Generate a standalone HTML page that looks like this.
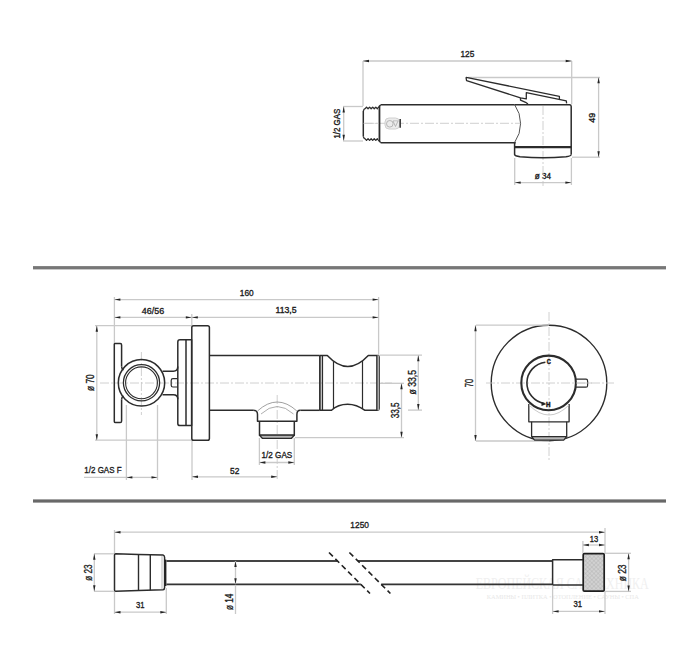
<!DOCTYPE html>
<html><head><meta charset="utf-8"><style>
html,body{margin:0;padding:0;background:#fff;}
svg{display:block;}
</style></head><body>
<svg width="700" height="651" viewBox="0 0 700 651">
<rect width="700" height="651" fill="#fff"/>
<rect x="33" y="266.1" width="633" height="3.3" fill="#777"/>
<rect x="33" y="499.4" width="633" height="3.2" fill="#686868"/>
<text x="562.2" y="589" font-size="16" text-anchor="middle" textLength="173" lengthAdjust="spacingAndGlyphs" style="font-family:'Liberation Serif', serif" fill="#f0f0f0">ЕВРОПЕЙСКАЯ САНТЕХНИКА</text>
<text x="562.8" y="599.3" font-size="6" text-anchor="middle" textLength="152" lengthAdjust="spacingAndGlyphs" style="font-family:'Liberation Serif', serif" fill="#e8e8e8">КАМИНЫ • ПЛИТКА • ОТОПЛЕНИЕ • САУНЫ • СПА</text>
<line x1="363" y1="61" x2="363" y2="106" stroke="#c9c9c9" stroke-width="1.3" />
<line x1="571.7" y1="61" x2="571.7" y2="104" stroke="#c9c9c9" stroke-width="1.3" />
<line x1="363" y1="61" x2="571.7" y2="61" stroke="#c9c9c9" stroke-width="1.3" />
<polygon points="363.00,61.00 369.00,59.80 369.00,62.20" fill="#252525"/>
<polygon points="571.70,61.00 565.70,59.80 565.70,62.20" fill="#252525"/>
<text x="467.40" y="56.95" font-size="9.57" text-anchor="middle" textLength="13.90" lengthAdjust="spacingAndGlyphs" font-family='"Liberation Sans", sans-serif' font-weight="normal" fill="#1a1a1a" stroke="#1a1a1a" stroke-width="0.35">125</text>
<line x1="343" y1="106.5" x2="363" y2="106.5" stroke="#c9c9c9" stroke-width="1.3" />
<line x1="343" y1="141" x2="363" y2="141" stroke="#c9c9c9" stroke-width="1.3" />
<line x1="343.7" y1="106.6" x2="343.7" y2="140.8" stroke="#c9c9c9" stroke-width="1.3" />
<polygon points="343.70,106.60 342.50,112.60 344.90,112.60" fill="#252525"/>
<polygon points="343.70,140.80 342.50,134.80 344.90,134.80" fill="#252525"/>
<text transform="translate(339.60,123.65) rotate(-90)" x="0" y="0" font-size="8.94" text-anchor="middle" textLength="29.80" lengthAdjust="spacingAndGlyphs" font-family='"Liberation Sans", sans-serif' font-weight="normal" fill="#1a1a1a" stroke="#1a1a1a" stroke-width="0.35">1/2 GAS</text>
<line x1="468" y1="77.5" x2="600" y2="77.5" stroke="#c9c9c9" stroke-width="1.3" />
<line x1="572" y1="157.2" x2="600" y2="157.2" stroke="#c9c9c9" stroke-width="1.3" />
<line x1="598.6" y1="77.3" x2="598.6" y2="157.2" stroke="#c9c9c9" stroke-width="1.3" />
<polygon points="598.60,77.30 597.40,83.30 599.80,83.30" fill="#252525"/>
<polygon points="598.60,157.20 597.40,151.20 599.80,151.20" fill="#252525"/>
<text transform="translate(595.00,117.65) rotate(-90)" x="0" y="0" font-size="8.94" text-anchor="middle" textLength="10.00" lengthAdjust="spacingAndGlyphs" font-family='"Liberation Sans", sans-serif' font-weight="normal" fill="#1a1a1a" stroke="#1a1a1a" stroke-width="0.35">49</text>
<line x1="514.7" y1="158" x2="514.7" y2="185" stroke="#c9c9c9" stroke-width="1.3" />
<line x1="571.4" y1="158" x2="571.4" y2="185" stroke="#c9c9c9" stroke-width="1.3" />
<line x1="514.7" y1="182.6" x2="571.4" y2="182.6" stroke="#c9c9c9" stroke-width="1.3" />
<polygon points="514.70,182.60 520.70,181.40 520.70,183.80" fill="#252525"/>
<polygon points="571.40,182.60 565.40,181.40 565.40,183.80" fill="#252525"/>
<text x="542.85" y="178.95" font-size="8.38" text-anchor="middle" textLength="16.20" lengthAdjust="spacingAndGlyphs" font-family='"Liberation Sans", sans-serif' font-weight="normal" fill="#1a1a1a" stroke="#1a1a1a" stroke-width="0.35">ø 34</text>
<line x1="365" y1="123.3" x2="521" y2="123.3" stroke="#c4c4c4" stroke-width="0.8" stroke-dasharray="9,2,2,2"/>
<line x1="543" y1="106" x2="543" y2="186" stroke="#c4c4c4" stroke-width="0.8" stroke-dasharray="9,2,2,2"/>
<polyline points="363.3,110.9 364.3,109.0 365.2,108.7 366.5,107.1 368.05,108.7 369.6,107.1 371.15000000000003,108.7 372.7,107.1 374.25,108.7 375.8,107.1 377.35,108.7 380.6,104.8" stroke="#2c2c2c" stroke-width="1.3" fill="none" stroke-linejoin="round" />
<polyline points="363.3,136.60000000000002 364.3,138.5 365.2,138.8 366.5,140.4 368.05,138.8 369.6,140.4 371.15000000000003,138.8 372.7,140.4 374.25,138.8 375.8,140.4 377.35,138.8 380.6,142.7" stroke="#2c2c2c" stroke-width="1.3" fill="none" stroke-linejoin="round" />
<line x1="363.3" y1="110.9" x2="363.3" y2="136.6" stroke="#2c2c2c" stroke-width="1.5" />
<line x1="378.6" y1="108" x2="378.6" y2="140" stroke="#999" stroke-width="0.8" />
<line x1="363.5" y1="123.4" x2="379" y2="123.4" stroke="#c8c8c8" stroke-width="0.8" stroke-dasharray="9,2,2,2"/>
<line x1="380.6" y1="104.8" x2="514.6" y2="104.8" stroke="#2c2c2c" stroke-width="1.5" />
<line x1="380.6" y1="142.7" x2="515.7" y2="142.7" stroke="#2c2c2c" stroke-width="1.5" />
<line x1="379.6" y1="105.5" x2="379.6" y2="142" stroke="#2c2c2c" stroke-width="1.5" />
<path d="M514.6,104.6 A33,33 0 0 1 514.6,142.5" stroke="#555" stroke-width="1.0" fill="none" stroke-linejoin="round" />
<path d="M514.6,104.7 L569.5,104.7 Q571.2,104.7 571.2,106.4 L571.2,154.5" stroke="#2c2c2c" stroke-width="1.5" fill="none" stroke-linejoin="round" />
<path d="M514.6,142.5 L514.6,154.5 Q515,156 520,156.8 Q543,158.6 566,156.8 Q571,156 571.2,154.5" stroke="#2c2c2c" stroke-width="1.5" fill="none" stroke-linejoin="round" />
<line x1="514.6" y1="147.1" x2="571.2" y2="147.1" stroke="#2c2c2c" stroke-width="2.2" />
<polyline points="466.2,79.0 466.2,77.3 559.4,96.4 559.4,99.1" stroke="#2c2c2c" stroke-width="1.3" fill="none" stroke-linejoin="round" />
<polyline points="466.2,79.0 466.6,80.7 520.5,97.9 526.3,98.9 526.3,92.7 566.3,100.9 566.6,103.4" stroke="#2c2c2c" stroke-width="1.3" fill="none" stroke-linejoin="round" />
<polyline points="520.5,97.9 520.5,100.2 525.6,102.3 528,104" stroke="#2c2c2c" stroke-width="1.3" fill="none" stroke-linejoin="round" />
<rect x="385" y="118" width="14.5" height="11" rx="4" fill="#ececec" stroke="#d0d0d0" stroke-width="1"/>
<circle cx="389.8" cy="123.8" r="3.3" stroke="#b0b0b0" stroke-width="0.9" fill="none" />
<polyline points="393,121 395.5,126.5 398,121" stroke="#b0b0b0" stroke-width="0.9" fill="none" stroke-linejoin="round" />
<line x1="393" y1="120.8" x2="398.5" y2="120.8" stroke="#b8b8b8" stroke-width="0.8" />
<line x1="400.2" y1="119" x2="400.2" y2="127.8" stroke="#333" stroke-width="1.5" />
<line x1="114.4" y1="297" x2="114.4" y2="343" stroke="#c9c9c9" stroke-width="1.3" />
<line x1="378.6" y1="297" x2="378.6" y2="355" stroke="#c9c9c9" stroke-width="1.3" />
<line x1="191.8" y1="314" x2="191.8" y2="326" stroke="#c9c9c9" stroke-width="1.3" />
<line x1="114.4" y1="299.6" x2="378.6" y2="299.6" stroke="#c9c9c9" stroke-width="1.3" />
<polygon points="114.40,299.60 120.40,298.40 120.40,300.80" fill="#252525"/>
<polygon points="378.60,299.60 372.60,298.40 372.60,300.80" fill="#252525"/>
<text x="246.80" y="296.15" font-size="9.50" text-anchor="middle" textLength="13.90" lengthAdjust="spacingAndGlyphs" font-family='"Liberation Sans", sans-serif' font-weight="normal" fill="#1a1a1a" stroke="#1a1a1a" stroke-width="0.35">160</text>
<line x1="114.4" y1="317.4" x2="191.8" y2="317.4" stroke="#c9c9c9" stroke-width="1.3" />
<polygon points="114.40,317.40 120.40,316.20 120.40,318.60" fill="#252525"/>
<polygon points="191.80,317.40 185.80,316.20 185.80,318.60" fill="#252525"/>
<line x1="191.8" y1="317.4" x2="378.6" y2="317.4" stroke="#c9c9c9" stroke-width="1.3" />
<polygon points="191.80,317.40 197.80,316.20 197.80,318.60" fill="#252525"/>
<polygon points="378.60,317.40 372.60,316.20 372.60,318.60" fill="#252525"/>
<text x="153.00" y="313.55" font-size="9.50" text-anchor="middle" textLength="22.30" lengthAdjust="spacingAndGlyphs" font-family='"Liberation Sans", sans-serif' font-weight="normal" fill="#1a1a1a" stroke="#1a1a1a" stroke-width="0.35">46/56</text>
<text x="286.00" y="313.05" font-size="9.08" text-anchor="middle" textLength="21.10" lengthAdjust="spacingAndGlyphs" font-family='"Liberation Sans", sans-serif' font-weight="normal" fill="#1a1a1a" stroke="#1a1a1a" stroke-width="0.35">113,5</text>
<line x1="95" y1="325.7" x2="192" y2="325.7" stroke="#c9c9c9" stroke-width="1.3" />
<line x1="95" y1="440.2" x2="192" y2="440.2" stroke="#c9c9c9" stroke-width="1.3" />
<line x1="96.8" y1="325.7" x2="96.8" y2="440.2" stroke="#c9c9c9" stroke-width="1.3" />
<polygon points="96.80,325.70 95.60,331.70 98.00,331.70" fill="#252525"/>
<polygon points="96.80,440.20 95.60,434.20 98.00,434.20" fill="#252525"/>
<text transform="translate(93.90,382.65) rotate(-90)" x="0" y="0" font-size="10.47" text-anchor="middle" textLength="16.80" lengthAdjust="spacingAndGlyphs" font-family='"Liberation Sans", sans-serif' font-weight="normal" fill="#1a1a1a" stroke="#1a1a1a" stroke-width="0.35">ø 70</text>
<line x1="100" y1="383" x2="392" y2="383" stroke="#c4c4c4" stroke-width="0.8" stroke-dasharray="9,2,2,2"/>
<line x1="141.4" y1="352" x2="141.4" y2="415" stroke="#c4c4c4" stroke-width="0.8" stroke-dasharray="9,2,2,2"/>
<line x1="277.2" y1="395" x2="277.2" y2="480" stroke="#c4c4c4" stroke-width="0.8" stroke-dasharray="9,2,2,2"/>
<path d="M114.3,344 L114.3,421.5 Q114.3,422.6 115.5,422.6 L120.2,422.6 Q121.6,422.6 121.6,421 L121.6,399.5" stroke="#2c2c2c" stroke-width="1.5" fill="none" stroke-linejoin="round" />
<path d="M114.3,344 Q114.3,343.4 115.5,343.4 L120.2,343.4 Q121.6,343.4 121.6,345 L121.6,366.5" stroke="#2c2c2c" stroke-width="1.5" fill="none" stroke-linejoin="round" />
<path d="M121.6,366.5 Q121.6,369 123.5,370" stroke="#2c2c2c" stroke-width="1.5" fill="none" stroke-linejoin="round" />
<path d="M121.6,399.5 Q121.6,397 123.5,396" stroke="#2c2c2c" stroke-width="1.5" fill="none" stroke-linejoin="round" />
<circle cx="141.5" cy="382.8" r="23.2" stroke="#2c2c2c" stroke-width="1.5" fill="none" />
<circle cx="141.5" cy="382.8" r="18.1" stroke="#2c2c2c" stroke-width="1.3" fill="none" />
<circle cx="141.5" cy="382.8" r="15.9" stroke="#2c2c2c" stroke-width="1.1" fill="none" />
<path d="M162.5,371.2 L173.3,371.2 Q177.8,371.2 177.8,366.5" stroke="#2c2c2c" stroke-width="1.5" fill="none" stroke-linejoin="round" />
<path d="M162.5,394.8 L173.3,394.8 Q177.8,394.8 177.8,399.3" stroke="#2c2c2c" stroke-width="1.5" fill="none" stroke-linejoin="round" />
<path d="M177.6,378.6 L173,378.6 Q171.2,378.6 171.2,380.4 L171.2,385.2 Q171.2,387 173,387 L177.6,387" stroke="#2c2c2c" stroke-width="1.2" fill="none" stroke-linejoin="round" />
<path d="M177.8,342 Q177.8,339.8 180,339.8 L191.6,339.8 L191.6,425.6 L180,425.6 Q177.8,425.6 177.8,423.4 Z" stroke="#2c2c2c" stroke-width="1.5" fill="none" stroke-linejoin="round" />
<line x1="186" y1="339.8" x2="186" y2="425.6" stroke="#2c2c2c" stroke-width="1.5" />
<path d="M191.8,327.5 Q191.8,325.7 193.6,325.7 L207.6,325.7 Q209.4,325.7 209.4,327.5 L209.4,438.4 Q209.4,440.2 207.6,440.2 L193.6,440.2 Q191.8,440.2 191.8,438.4 Z" stroke="#2c2c2c" stroke-width="1.5" fill="none" stroke-linejoin="round" />
<line x1="209.4" y1="355.4" x2="319.8" y2="355.4" stroke="#2c2c2c" stroke-width="1.5" />
<line x1="209.4" y1="410.3" x2="253.2" y2="410.3" stroke="#2c2c2c" stroke-width="1.5" />
<line x1="300.3" y1="410.3" x2="319.8" y2="410.3" stroke="#2c2c2c" stroke-width="1.5" />
<path d="M253.2,410.3 Q257.5,410.3 257.5,414.5 L257.5,421.3 L296.9,421.3 L296.9,414.5 Q296.9,410.3 300.3,410.3" stroke="#2c2c2c" stroke-width="1.5" fill="none" stroke-linejoin="round" />
<path d="M257.5,411 Q277.2,393 296.9,411" stroke="#888" stroke-width="0.8" fill="none" stroke-linejoin="round" />
<path d="M261,414 Q277.2,399 293.5,414" stroke="#999" stroke-width="0.8" fill="none" stroke-linejoin="round" />
<polyline points="259.5,421.3 259.5,435.2 294.3,435.2 294.3,421.3" stroke="#2c2c2c" stroke-width="1.5" fill="none" stroke-linejoin="round" />
<polygon points="259.5,435.2 262.3,438.3 291.5,438.3 294.3,435.2" stroke="#2c2c2c" stroke-width="1.3" fill="#b4b4b4" stroke-linejoin="round" />
<line x1="319.9" y1="355.4" x2="319.9" y2="410.2" stroke="#2c2c2c" stroke-width="1.7" />
<line x1="322.4" y1="355.4" x2="322.4" y2="410.2" stroke="#2c2c2c" stroke-width="1.4" />
<path d="M319.9,355.4 L327.3,355.4 Q347.8,377.4 368.3,355.4 L377.5,355.4 Q379.2,355.4 379.2,357 L379.2,408.5 Q379.2,410.2 377.5,410.2 L364.6,410.2 C359,406 355,404.2 347.6,404.2 C340,404.2 336,406 331.5,410.2 L319.9,410.2" stroke="#2c2c2c" stroke-width="1.5" fill="none" stroke-linejoin="round" />
<line x1="333.5" y1="361.2" x2="333.5" y2="408.6" stroke="#2c2c2c" stroke-width="1.2" />
<line x1="362.5" y1="360.7" x2="362.5" y2="408.6" stroke="#2c2c2c" stroke-width="1.2" />
<rect x="377" y="355.4" width="2.2" height="54.8" fill="#aaa"/>
<line x1="376.8" y1="355.4" x2="376.8" y2="410.2" stroke="#2c2c2c" stroke-width="1.3" />
<line x1="380" y1="355.2" x2="422" y2="355.2" stroke="#c9c9c9" stroke-width="1.3" />
<line x1="408" y1="410.1" x2="422" y2="410.1" stroke="#c9c9c9" stroke-width="1.3" />
<line x1="418.3" y1="355.2" x2="418.3" y2="410.1" stroke="#c9c9c9" stroke-width="1.3" />
<polygon points="418.30,355.20 417.10,361.20 419.50,361.20" fill="#252525"/>
<polygon points="418.30,410.10 417.10,404.10 419.50,404.10" fill="#252525"/>
<text transform="translate(415.60,382.20) rotate(-90)" x="0" y="0" font-size="10.20" text-anchor="middle" textLength="24.50" lengthAdjust="spacingAndGlyphs" font-family='"Liberation Sans", sans-serif' font-weight="normal" fill="#1a1a1a" stroke="#1a1a1a" stroke-width="0.35">ø 33,5</text>
<line x1="380" y1="383.3" x2="404" y2="383.3" stroke="#c9c9c9" stroke-width="1.3" />
<line x1="295" y1="437.7" x2="404" y2="437.7" stroke="#c9c9c9" stroke-width="1.3" />
<line x1="401.5" y1="383.3" x2="401.5" y2="437.7" stroke="#c9c9c9" stroke-width="1.3" />
<polygon points="401.50,383.30 400.30,389.30 402.70,389.30" fill="#252525"/>
<polygon points="401.50,437.70 400.30,431.70 402.70,431.70" fill="#252525"/>
<text transform="translate(398.70,410.35) rotate(-90)" x="0" y="0" font-size="10.20" text-anchor="middle" textLength="16.00" lengthAdjust="spacingAndGlyphs" font-family='"Liberation Sans", sans-serif' font-weight="normal" fill="#1a1a1a" stroke="#1a1a1a" stroke-width="0.35">33,5</text>
<line x1="126.4" y1="405" x2="126.4" y2="480" stroke="#c9c9c9" stroke-width="1.3" />
<line x1="157.5" y1="405" x2="157.5" y2="480" stroke="#c9c9c9" stroke-width="1.3" />
<line x1="84" y1="477.4" x2="126.4" y2="477.4" stroke="#c9c9c9" stroke-width="1.3" />
<line x1="126.4" y1="477.4" x2="157.5" y2="477.4" stroke="#c9c9c9" stroke-width="1.3" />
<polygon points="126.40,477.40 132.40,476.20 132.40,478.60" fill="#252525"/>
<polygon points="157.50,477.40 151.50,476.20 151.50,478.60" fill="#252525"/>
<text x="102.95" y="473.45" font-size="9.78" text-anchor="middle" textLength="37.20" lengthAdjust="spacingAndGlyphs" font-family='"Liberation Sans", sans-serif' font-weight="normal" fill="#1a1a1a" stroke="#1a1a1a" stroke-width="0.35">1/2 GAS F</text>
<line x1="192" y1="441" x2="192" y2="480" stroke="#c9c9c9" stroke-width="1.3" />
<line x1="192" y1="476.8" x2="277.2" y2="476.8" stroke="#c9c9c9" stroke-width="1.3" />
<polygon points="192.00,476.80 198.00,475.60 198.00,478.00" fill="#252525"/>
<polygon points="277.20,476.80 271.20,475.60 271.20,478.00" fill="#252525"/>
<text x="234.70" y="473.85" font-size="9.08" text-anchor="middle" textLength="9.30" lengthAdjust="spacingAndGlyphs" font-family='"Liberation Sans", sans-serif' font-weight="normal" fill="#1a1a1a" stroke="#1a1a1a" stroke-width="0.35">52</text>
<line x1="259.4" y1="438" x2="259.4" y2="465" stroke="#c9c9c9" stroke-width="1.3" />
<line x1="294.3" y1="438" x2="294.3" y2="465" stroke="#c9c9c9" stroke-width="1.3" />
<line x1="259.4" y1="462.5" x2="294.3" y2="462.5" stroke="#c9c9c9" stroke-width="1.3" />
<polygon points="259.40,462.50 265.40,461.30 265.40,463.70" fill="#252525"/>
<polygon points="294.30,462.50 288.30,461.30 288.30,463.70" fill="#252525"/>
<text x="276.90" y="458.45" font-size="9.50" text-anchor="middle" textLength="30.70" lengthAdjust="spacingAndGlyphs" font-family='"Liberation Sans", sans-serif' font-weight="normal" fill="#1a1a1a" stroke="#1a1a1a" stroke-width="0.35">1/2 GAS</text>
<circle cx="549" cy="383" r="57.8" stroke="#2c2c2c" stroke-width="1.4" fill="none" />
<line x1="549" y1="312" x2="549" y2="462" stroke="#c4c4c4" stroke-width="0.8" stroke-dasharray="9,2,2,2"/>
<line x1="486" y1="383" x2="614" y2="383" stroke="#c4c4c4" stroke-width="0.8" stroke-dasharray="9,2,2,2"/>
<line x1="476" y1="325.2" x2="549" y2="325.2" stroke="#c9c9c9" stroke-width="1.3" />
<line x1="476" y1="441" x2="549" y2="441" stroke="#c9c9c9" stroke-width="1.3" />
<line x1="475.5" y1="325.2" x2="475.5" y2="441" stroke="#c9c9c9" stroke-width="1.3" />
<polygon points="475.50,325.20 474.30,331.20 476.70,331.20" fill="#252525"/>
<polygon points="475.50,441.00 474.30,435.00 476.70,435.00" fill="#252525"/>
<text transform="translate(472.60,383.00) rotate(-90)" x="0" y="0" font-size="10.20" text-anchor="middle" textLength="8.30" lengthAdjust="spacingAndGlyphs" font-family='"Liberation Sans", sans-serif' font-weight="normal" fill="#1a1a1a" stroke="#1a1a1a" stroke-width="0.35">70</text>
<path d="M528.8,404 L528.8,421.8 L569.1,421.8 L569.1,404" stroke="#2c2c2c" stroke-width="1.3" fill="none" stroke-linejoin="round" />
<polyline points="531.6,421.8 531.6,436.6 566.7,436.6 566.7,421.8" stroke="#2c2c2c" stroke-width="1.3" fill="none" stroke-linejoin="round" />
<polygon points="531.6,436.6 534.6,440.2 563.7,440.2 566.7,436.6" stroke="#2c2c2c" stroke-width="1.2" fill="#b8b8b8" stroke-linejoin="round" />
<path d="M529,405 Q549,425 569,405" stroke="#bbb" stroke-width="0.8" fill="none" stroke-linejoin="round" />
<circle cx="548.6" cy="382.9" r="27.3" stroke="#2c2c2c" stroke-width="2.1" fill="none" />
<path d="M576,379.2 L586,379.2 Q587.6,379.2 587.6,381 L587.6,385.4 Q587.6,387.2 586,387.2 L576,387.2" stroke="#2c2c2c" stroke-width="1.2" fill="none" stroke-linejoin="round" />
<line x1="576" y1="383" x2="592" y2="383" stroke="#c4c4c4" stroke-width="0.8" />
<path d="M545.4,362.2 A20.9,20.9 0 0 0 544.5,403.6" stroke="#2c2c2c" stroke-width="1.6" fill="none" stroke-linejoin="round" />
<polygon points="546.50,404.00 541.50,402.00 541.50,406.00" fill="#222"/>
<text x="548.80" y="364.45" font-size="7.82" text-anchor="middle" textLength="4.10" lengthAdjust="spacingAndGlyphs" font-family='"Liberation Sans", sans-serif' font-weight="bold" fill="#1a1a1a" stroke="#1a1a1a" stroke-width="0.5">C</text>
<text x="548.30" y="406.55" font-size="7.12" text-anchor="middle" textLength="4.50" lengthAdjust="spacingAndGlyphs" font-family='"Liberation Sans", sans-serif' font-weight="bold" fill="#1a1a1a" stroke="#1a1a1a" stroke-width="0.5">H</text>
<line x1="114.5" y1="530" x2="114.5" y2="553" stroke="#c9c9c9" stroke-width="1.3" />
<line x1="605" y1="528" x2="605" y2="553" stroke="#c9c9c9" stroke-width="1.3" />
<line x1="114.5" y1="532.2" x2="605" y2="532.2" stroke="#c9c9c9" stroke-width="1.3" />
<polygon points="114.50,532.20 120.50,531.00 120.50,533.40" fill="#252525"/>
<polygon points="605.00,532.20 599.00,531.00 599.00,533.40" fill="#252525"/>
<text x="359.65" y="528.45" font-size="9.92" text-anchor="middle" textLength="18.60" lengthAdjust="spacingAndGlyphs" font-family='"Liberation Sans", sans-serif' font-weight="normal" fill="#1a1a1a" stroke="#1a1a1a" stroke-width="0.35">1250</text>
<path d="M114.5,555 Q114.5,553.8 115.7,553.8 L138.5,554.5 L163,555 Q164.6,555.5 164.6,557.5 L164.6,587.5 Q164.6,589.5 163,589.8 L138.5,590.5 L115.7,591.3 Q114.5,591.3 114.5,590 Z" stroke="#2c2c2c" stroke-width="1.5" fill="none" stroke-linejoin="round" />
<line x1="138.5" y1="554.5" x2="138.5" y2="590.5" stroke="#2c2c2c" stroke-width="1.4" />
<line x1="150.3" y1="554.8" x2="150.3" y2="590.2" stroke="#2c2c2c" stroke-width="1.4" />
<line x1="162" y1="556" x2="162" y2="589" stroke="#aaa" stroke-width="0.8" />
<rect x="164.6" y="559.6" width="1.8" height="26.4" fill="#222"/>
<line x1="166.4" y1="561" x2="337.5" y2="561" stroke="#444" stroke-width="1.8" />
<line x1="357.9" y1="561" x2="552.6" y2="561" stroke="#444" stroke-width="1.8" />
<line x1="166.4" y1="584.3" x2="360.9" y2="584.3" stroke="#333" stroke-width="1.8" />
<line x1="381.3" y1="584.3" x2="552.6" y2="584.3" stroke="#333" stroke-width="1.8" />
<line x1="329" y1="552.5" x2="370" y2="593.5" stroke="#222" stroke-width="1.6" stroke-dasharray="5.5,3.5"/>
<line x1="349.4" y1="552.5" x2="390.4" y2="593.5" stroke="#222" stroke-width="1.6" stroke-dasharray="5.5,3.5"/>
<line x1="94" y1="553.8" x2="114" y2="553.8" stroke="#c9c9c9" stroke-width="1.3" />
<line x1="94" y1="591.3" x2="114" y2="591.3" stroke="#c9c9c9" stroke-width="1.3" />
<line x1="94.3" y1="553.8" x2="94.3" y2="591.3" stroke="#c9c9c9" stroke-width="1.3" />
<polygon points="94.30,553.80 93.10,559.80 95.50,559.80" fill="#252525"/>
<polygon points="94.30,591.30 93.10,585.30 95.50,585.30" fill="#252525"/>
<text transform="translate(91.70,572.65) rotate(-90)" x="0" y="0" font-size="10.47" text-anchor="middle" textLength="16.40" lengthAdjust="spacingAndGlyphs" font-family='"Liberation Sans", sans-serif' font-weight="normal" fill="#1a1a1a" stroke="#1a1a1a" stroke-width="0.35">ø 23</text>
<line x1="166.3" y1="588" x2="166.3" y2="614" stroke="#c9c9c9" stroke-width="1.3" />
<line x1="114.5" y1="592" x2="114.5" y2="614" stroke="#c9c9c9" stroke-width="1.3" />
<line x1="114.5" y1="612.2" x2="166.3" y2="612.2" stroke="#c9c9c9" stroke-width="1.3" />
<polygon points="114.50,612.20 120.50,611.00 120.50,613.40" fill="#252525"/>
<polygon points="166.30,612.20 160.30,611.00 160.30,613.40" fill="#252525"/>
<text x="140.30" y="607.75" font-size="9.92" text-anchor="middle" textLength="8.50" lengthAdjust="spacingAndGlyphs" font-family='"Liberation Sans", sans-serif' font-weight="normal" fill="#1a1a1a" stroke="#1a1a1a" stroke-width="0.35">31</text>
<line x1="235.5" y1="561" x2="235.5" y2="584.3" stroke="#c9c9c9" stroke-width="1.3" />
<polygon points="235.50,561.00 234.30,567.00 236.70,567.00" fill="#252525"/>
<polygon points="235.50,584.30 234.30,578.30 236.70,578.30" fill="#252525"/>
<line x1="235.5" y1="585" x2="235.5" y2="614" stroke="#c9c9c9" stroke-width="1.3" />
<text transform="translate(232.60,601.90) rotate(-90)" x="0" y="0" font-size="10.61" text-anchor="middle" textLength="16.30" lengthAdjust="spacingAndGlyphs" font-family='"Liberation Sans", sans-serif' font-weight="normal" fill="#1a1a1a" stroke="#1a1a1a" stroke-width="0.35">ø 14</text>
<path d="M552.6,585 L552.6,559.7 L582.9,559.7 M552.6,585 L582.9,585" stroke="#2c2c2c" stroke-width="1.5" fill="none" stroke-linejoin="round" />
<defs><pattern id="kn" width="3" height="3" patternUnits="userSpaceOnUse" patternTransform="rotate(45)"><rect width="3" height="3" fill="#d2d2d2"/><line x1="0" y1="0" x2="0" y2="3" stroke="#a8a8a8" stroke-width="0.7"/><line x1="0" y1="0" x2="3" y2="0" stroke="#a8a8a8" stroke-width="0.7"/></pattern></defs>
<rect x="583.2" y="553.6" width="21" height="37.6" rx="1.2" fill="url(#kn)" stroke="#1e1e1e" stroke-width="1.7"/>
<line x1="582.9" y1="541" x2="582.9" y2="553" stroke="#c9c9c9" stroke-width="1.3" />
<line x1="582.9" y1="545" x2="605" y2="545" stroke="#c9c9c9" stroke-width="1.3" />
<polygon points="582.90,545.00 588.90,543.80 588.90,546.20" fill="#252525"/>
<polygon points="605.00,545.00 599.00,543.80 599.00,546.20" fill="#252525"/>
<text x="593.95" y="541.65" font-size="8.66" text-anchor="middle" textLength="8.40" lengthAdjust="spacingAndGlyphs" font-family='"Liberation Sans", sans-serif' font-weight="normal" fill="#1a1a1a" stroke="#1a1a1a" stroke-width="0.35">13</text>
<line x1="605" y1="553.3" x2="631" y2="553.3" stroke="#c9c9c9" stroke-width="1.3" />
<line x1="605" y1="591.4" x2="631" y2="591.4" stroke="#c9c9c9" stroke-width="1.3" />
<line x1="628.6" y1="553.3" x2="628.6" y2="591.4" stroke="#c9c9c9" stroke-width="1.3" />
<polygon points="628.60,553.30 627.40,559.30 629.80,559.30" fill="#252525"/>
<polygon points="628.60,591.40 627.40,585.40 629.80,585.40" fill="#252525"/>
<text transform="translate(625.80,572.90) rotate(-90)" x="0" y="0" font-size="10.34" text-anchor="middle" textLength="16.90" lengthAdjust="spacingAndGlyphs" font-family='"Liberation Sans", sans-serif' font-weight="normal" fill="#1a1a1a" stroke="#1a1a1a" stroke-width="0.35">ø 23</text>
<line x1="552.6" y1="586" x2="552.6" y2="614" stroke="#c9c9c9" stroke-width="1.3" />
<line x1="605" y1="592" x2="605" y2="614" stroke="#c9c9c9" stroke-width="1.3" />
<line x1="552.6" y1="611.4" x2="605" y2="611.4" stroke="#c9c9c9" stroke-width="1.3" />
<polygon points="552.60,611.40 558.60,610.20 558.60,612.60" fill="#252525"/>
<polygon points="605.00,611.40 599.00,610.20 599.00,612.60" fill="#252525"/>
<text x="577.85" y="607.35" font-size="8.38" text-anchor="middle" textLength="8.60" lengthAdjust="spacingAndGlyphs" font-family='"Liberation Sans", sans-serif' font-weight="normal" fill="#1a1a1a" stroke="#1a1a1a" stroke-width="0.35">31</text>
</svg>
</body></html>
